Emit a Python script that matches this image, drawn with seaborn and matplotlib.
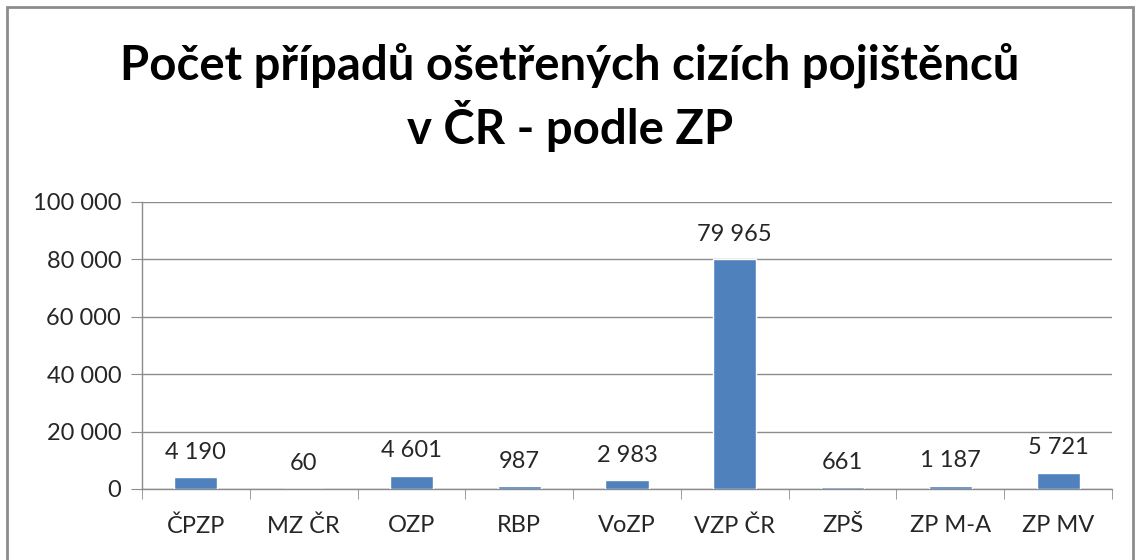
import matplotlib
matplotlib.use("Agg")
import matplotlib.pyplot as plt
import seaborn as sns
import pandas as pd
from matplotlib.ticker import FuncFormatter, FixedLocator
from matplotlib.patches import Rectangle

# data
categories = ["ČPZP", "MZ ČR", "OZP", "RBP", "VoZP", "VZP ČR", "ZPŠ", "ZP M-A", "ZP MV"]
cases = [4190, 60, 4601, 987, 2983, 79965, 661, 1187, 5721]
y_ticks = [0, 20000, 40000, 60000, 80000, 100000]

title = "Počet případů ošetřených cizích pojištěnců\nv ČR - podle ZP"


def fmt_space(v, pos=None):
    return f"{int(v):,}".replace(",", " ")


sns.set_style("white")
plt.rcParams["font.family"] = ["Lato", "DejaVu Sans"]

df = pd.DataFrame({"zp": categories, "count": cases})

fig = plt.figure(figsize=(11.4, 5.6), dpi=100)
ax = fig.add_axes([0.1246, 0.1268, 0.8508, 0.5125])

sns.barplot(data=df, x="zp", y="count", color="#4F81BD", saturation=1,
            width=0.4, ax=ax, zorder=3)

ax.set_ylim(0, 100000)
ax.set_xlim(-0.5, len(categories) - 0.5)
ax.yaxis.set_major_locator(FixedLocator(y_ticks))
ax.yaxis.set_major_formatter(FuncFormatter(fmt_space))
ax.grid(axis="y", color="#8c8c8c", linewidth=1, zorder=0)
ax.set_xlabel("")
ax.set_ylabel("")

for s in ["top", "right"]:
    ax.spines[s].set_visible(False)
for s in ["left", "bottom"]:
    ax.spines[s].set_color("#8c8c8c")
    ax.spines[s].set_linewidth(1)

ax.tick_params(axis="y", labelsize=17, length=8, color="#8c8c8c", left=True, pad=7)
ax.tick_params(axis="x", labelsize=17, length=0, pad=19)
# category boundary ticks on the x axis
ax.set_xticks([i + 0.5 for i in range(-1, len(categories))], minor=True)
ax.tick_params(axis="x", which="minor", length=7, color="#8c8c8c", bottom=True)

for i, v in enumerate(cases):
    ax.text(i, v + 5000, fmt_space(v), ha="center", va="bottom", fontsize=17)

fig.text(0.5, 0.925, title, ha="center", va="top", fontsize=34,
         fontweight="bold", color="black", linespacing=1.28)

fig.patches.append(Rectangle((0.006, -0.01), 0.988, 0.997, transform=fig.transFigure,
                             fill=False, edgecolor="#8c8c8c", linewidth=2))

fig.savefig("out.png", dpi=100)
